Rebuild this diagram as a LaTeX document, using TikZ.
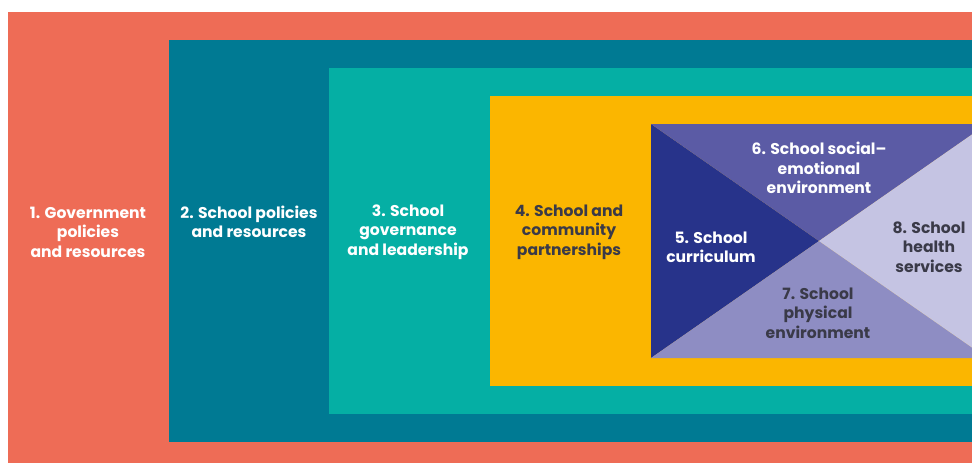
\documentclass[tikz,border=0pt]{standalone}
\usepackage{fontspec}
\setmainfont{Poppins}
\definecolor{cRed}{RGB}{238,108,86}
\definecolor{cDTeal}{RGB}{0,122,147}
\definecolor{cLTeal}{RGB}{5,175,164}
\definecolor{cYellow}{RGB}{251,182,0}
\definecolor{cNavy}{RGB}{39,51,138}
\definecolor{cP6}{RGB}{91,91,165}
\definecolor{cP7}{RGB}{142,141,195}
\definecolor{cP8}{RGB}{197,196,227}
\definecolor{cDark}{RGB}{58,58,72}
\tikzset{
  lbl/.style={align=center, font=\bfseries\fontsize{15.6}{19.4}\selectfont, inner sep=0pt},
  lw/.style={lbl, text=white},
  ld/.style={lbl, text=cDark},
}
\begin{document}
\begin{tikzpicture}[x=1pt,y=-1pt]
\useasboundingbox (0,0) rectangle (972,463);
\clip (0,0) rectangle (972,463);
\fill[cRed] (8,12) rectangle (972,463);
\fill[cDTeal] (169,40) rectangle (972,442);
\fill[cLTeal] (329,68) rectangle (972,414);
\fill[cYellow] (490,96) rectangle (972,386);
\coordinate (tl) at (651,124);
\coordinate (bl) at (651,358);
\coordinate (tr) at (987,124);
\coordinate (br) at (987,358);
\coordinate (cx) at (819,241);
\fill[cNavy] (tl) -- (cx) -- (bl) -- cycle;
\fill[cP6] (tl) -- (tr) -- (cx) -- cycle;
\fill[cP7] (bl) -- (cx) -- (br) -- cycle;
\fill[cP8] (tr) -- (br) -- (cx) -- cycle;
\node[lw] (n1) at (88,232) {1. Government\\policies\\and resources};
\node[lw] (n2) at (249,222) {2. School policies\\and resources};
\node[lw] (n3) at (408,232) {3. School\\governance\\and leadership};
\node[ld] (n4) at (569,232) {4. School and\\community\\partnerships};
\node[lw] (n5) at (711,247) {5. School\\curriculum};
\node[lw] (n6) at (819,168) {6. School social–\\emotional\\environment};
\node[ld] (n7) at (818,313) {7. School\\physical\\environment};
\node[ld] (n8) at (929,247) {8. School\\health\\services};
\end{tikzpicture}
\end{document}
